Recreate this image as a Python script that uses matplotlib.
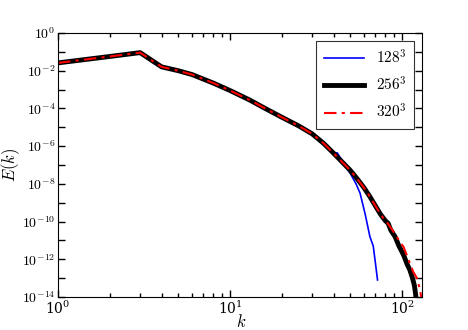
import numpy as np
import matplotlib
matplotlib.use("Agg")
import matplotlib.pyplot as plt
from matplotlib.ticker import LogLocator, NullLocator, FuncFormatter

plt.rcParams['mathtext.fontset'] = 'cm'
plt.rcParams['font.family'] = 'serif'
plt.rcParams['font.serif'] = ['DejaVu Serif']

# spectra
k_128 = [1, 2, 3, 4, 5, 6, 8, 10, 13, 16, 20, 25, 30, 35, 40, 42, 44, 47, 50, 54, 57, 61, 65, 68, 70, 72]
E_128 = [2.6e-2, 5.7e-2, 9.1e-2, 1.6e-2, 1.0e-2, 6.3e-3, 2.2e-3, 8.9e-4, 2.8e-4, 1.0e-4,
         3.4e-5, 1.2e-5, 4.5e-6, 1.4e-6, 4.2e-7, 4.4e-7, 2.2e-7, 8.0e-8, 3.6e-8, 1.0e-8,
         3.2e-9, 2.5e-10, 1.6e-11, 5.0e-12, 6.3e-13, 8.0e-14]

k_256 = [1, 2, 3, 4, 5, 6, 8, 10, 13, 16, 20, 25, 30, 35, 40, 45, 50, 55, 60, 65, 70, 75, 80, 83,
         86, 91, 96, 102, 107, 111, 115, 118, 120, 121]
E_256 = [2.6e-2, 5.7e-2, 9.1e-2, 1.6e-2, 1.0e-2, 6.3e-3, 2.2e-3, 8.9e-4, 2.8e-4, 1.0e-4,
         3.4e-5, 1.2e-5, 4.5e-6, 1.4e-6, 4.2e-7, 1.4e-7, 5.2e-8, 1.8e-8, 6.3e-9, 2.1e-9,
         6.8e-10, 2.4e-10, 1.1e-10, 8.1e-11, 3.5e-11, 1.6e-11, 5.0e-12, 1.7e-12, 5.5e-13,
         2.7e-13, 1.0e-13, 4.0e-14, 1.3e-14, 5.0e-15]

k_320 = [1, 2, 3, 4, 5, 6, 8, 10, 13, 16, 20, 25, 30, 35, 40, 45, 50, 55, 60, 65, 70, 75, 80, 83,
         88, 93, 98, 102, 107, 111, 116, 122, 127, 131]
E_320 = [2.6e-2, 5.7e-2, 9.1e-2, 1.6e-2, 1.0e-2, 6.3e-3, 2.2e-3, 8.9e-4, 2.8e-4, 1.0e-4,
         3.4e-5, 1.2e-5, 4.5e-6, 1.4e-6, 4.2e-7, 1.4e-7, 5.2e-8, 1.8e-8, 6.3e-9, 2.1e-9,
         6.8e-10, 2.4e-10, 1.1e-10, 7.5e-11, 3.5e-11, 1.6e-11, 7.5e-12, 4.5e-12, 1.5e-12,
         6.0e-13, 2.2e-13, 1.0e-13, 2.5e-14, 5.0e-15]

labels = [r'$128^3$', r'$256^3$', r'$320^3$']

fig = plt.figure(figsize=(4.68, 3.3), dpi=100)
ax = fig.add_axes([0.124, 0.1, 0.777, 0.8])

ax.loglog(k_128, E_128, color='blue', lw=1.2, label=labels[0])
ax.loglog(k_256, E_256, color='black', lw=3.5, label=labels[1])
ax.loglog(k_320, E_320, color='red', lw=1.5, ls='-.', dashes=(6, 2.5, 1.5, 2.5), label=labels[2])

ax.set_xlim(1, 130)
ax.set_ylim(1e-14, 1)
ax.set_xlabel(r'$k$', fontsize=12)
ax.set_ylabel(r'$E(k)$', fontsize=12)
ax.xaxis.set_label_coords(0.505, -0.063)
ax.yaxis.set_label_coords(-0.1, 0.5)

ax.yaxis.set_major_locator(LogLocator(base=10, numticks=20))
ax.yaxis.set_minor_locator(NullLocator())
ax.yaxis.set_major_formatter(FuncFormatter(
    lambda v, p: r'$10^{%d}$' % round(np.log10(v)) if round(np.log10(v)) % 2 == 0 else ''))
ax.xaxis.set_major_locator(LogLocator(base=10))
ax.xaxis.set_minor_locator(LogLocator(base=10, subs=np.arange(2, 10)))

ax.tick_params(which='both', direction='in', top=True, right=True, labelsize=10)
ax.tick_params(which='major', length=5, width=1, pad=2)
ax.tick_params(which='minor', length=3, width=1)

leg = ax.legend(loc='upper right', fontsize=11, fancybox=False, edgecolor='black',
                handlelength=2.6, borderpad=0.5, labelspacing=0.6)
leg.get_frame().set_linewidth(0.8)

fig.savefig('out.png', dpi=100)
